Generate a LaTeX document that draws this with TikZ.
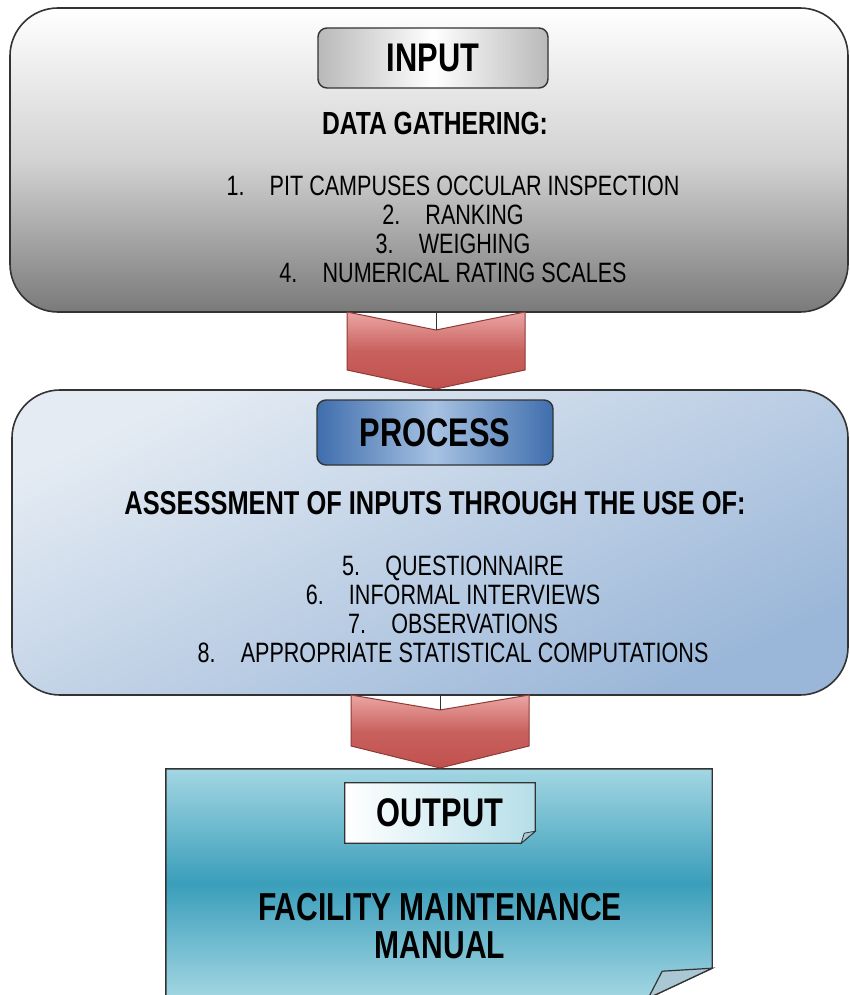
\documentclass[tikz,border=0pt]{standalone}
\usepackage{fontspec}
\setmainfont{Liberation Sans}
\newfontfamily\nar[FakeStretch=0.77]{Liberation Sans}
\usetikzlibrary{calc}
\definecolor{grayD}{HTML}{7A7A7A}
\definecolor{procL}{HTML}{E4EBF3}
\definecolor{procD}{HTML}{9AB6D8}
\definecolor{labB}{HTML}{3F6EAD}
\definecolor{labBL}{HTML}{A7C2E2}
\definecolor{outL}{HTML}{A3D6E3}
\definecolor{outD}{HTML}{3A9EBA}
\definecolor{flapC}{HTML}{A9C8D4}
\definecolor{arrL}{HTML}{EBA6A4}
\definecolor{arrD}{HTML}{C0504D}
\definecolor{arrB}{HTML}{8E3A37}
\definecolor{edge}{HTML}{333333}
\tikzset{
  bigbox/.style={draw=edge, line width=1.6pt, rounded corners=48pt, inner sep=0pt},
  labbox/.style={draw=edge, line width=1.4pt, rounded corners=9pt, inner sep=0pt,
     font=\nar\bfseries\fontsize{40}{44}\selectfont},
  headtxt/.style={font=\nar\bfseries\fontsize{32}{35}\selectfont, inner sep=0pt},
  itemtxt/.style={font=\nar\fontsize{28}{29}\selectfont, align=center, inner sep=0pt},
  chev/.style={draw=arrB, line width=1pt, top color=arrL, bottom color=arrD, middle color=arrD!80!arrL},
  link/.style={draw=edge, line width=0.8pt}
}
\newcommand{\itm}[2]{#1.\hspace{0.9em}#2}
\begin{document}
\begin{tikzpicture}[x=1pt,y=-1pt]
\useasboundingbox (0,0) rectangle (850,995);

% ---------- INPUT ----------
\node[bigbox, minimum width=838pt, minimum height=304pt, top color=white, bottom color=grayD, middle color=gray!35] (inbox) at (429,160) {};
\node[labbox, minimum width=230pt, minimum height=60pt, left color=gray!55, right color=gray!55, middle color=white] (inlab) at (433,58) {INPUT};
\node[headtxt] (inhead) at (435,123) {DATA GATHERING:};
\node[itemtxt] (inlist) at (453,229) {\itm{1}{PIT CAMPUSES OCCULAR INSPECTION}\\ \itm{2}{RANKING}\\ \itm{3}{WEIGHING}\\ \itm{4}{NUMERICAL RATING SCALES}};

% ---------- PROCESS ----------
\node[bigbox, minimum width=836pt, minimum height=305pt, top color=procL, bottom color=procD, shading angle=25] (procbox) at (430,542.5) {};
\node[labbox, minimum width=236pt, minimum height=65pt, left color=labB, right color=labB, middle color=labBL] (proclab) at (435,432.5) {PROCESS};
\node[headtxt, font=\nar\bfseries\fontsize{33}{36}\selectfont] (prochead) at (435,503) {ASSESSMENT OF INPUTS THROUGH THE USE OF:};
\node[itemtxt] (proclist) at (453,609.5) {\itm{5}{QUESTIONNAIRE}\\ \itm{6}{INFORMAL INTERVIEWS}\\ \itm{7}{OBSERVATIONS}\\ \itm{8}{APPROPRIATE STATISTICAL COMPUTATIONS}};

% ---------- OUTPUT ----------
\node[minimum width=546pt, minimum height=229pt, inner sep=0pt] (outbox) at (439,883.5) {};
\shade[draw=edge, line width=1.4pt, top color=outL, bottom color=outL, middle color=outD]
  (outbox.north west) -- (outbox.north east) -- ($(outbox.south east)+(0,-30)$)
  -- ($(outbox.south east)+(-64,0)$) -- (outbox.south west) -- cycle;
\filldraw[draw=edge, line width=1.2pt, fill=flapC]
  ($(outbox.south east)+(0,-30)$) -- ($(outbox.south east)+(-50,-27)$) -- ($(outbox.south east)+(-64,0)$) -- cycle;

\node[minimum width=190pt, minimum height=60pt, inner sep=0pt] (outlab) at (440,813) {};
\shade[draw=edge, line width=1.2pt, left color=white, right color=outL!80!white]
  (outlab.north west) -- (outlab.north east) -- ($(outlab.south east)+(0,-12)$)
  -- ($(outlab.south east)+(-14,0)$) -- (outlab.south west) -- cycle;
\filldraw[draw=edge, line width=0.8pt, fill=flapC]
  ($(outlab.south east)+(0,-12)$) -- ($(outlab.south east)+(-11,-10)$) -- ($(outlab.south east)+(-14,0)$) -- cycle;
\node[font=\nar\bfseries\fontsize{40}{44}\selectfont] at (outlab) {OUTPUT};
\node[itemtxt, font=\nar\bfseries\fontsize{39}{38}\selectfont] (outtxt) at (440,926) {FACILITY MAINTENANCE\\MANUAL};

% ---------- arrows ----------
\coordinate (n1) at (436,330);
\coordinate (n2) at (440,710);
\draw[chev] (347,312) -- (n1) -- (525,312) -- (525,370) -- (436,389) -- (347,370) -- cycle;
\draw[link] (inbox.south -| n1) -- (n1);
\draw[chev] (351,695) -- (n2) -- (529,695) -- (529,746) -- (440,768) -- (351,746) -- cycle;
\draw[link] (procbox.south -| n2) -- (n2);
\end{tikzpicture}
\end{document}
